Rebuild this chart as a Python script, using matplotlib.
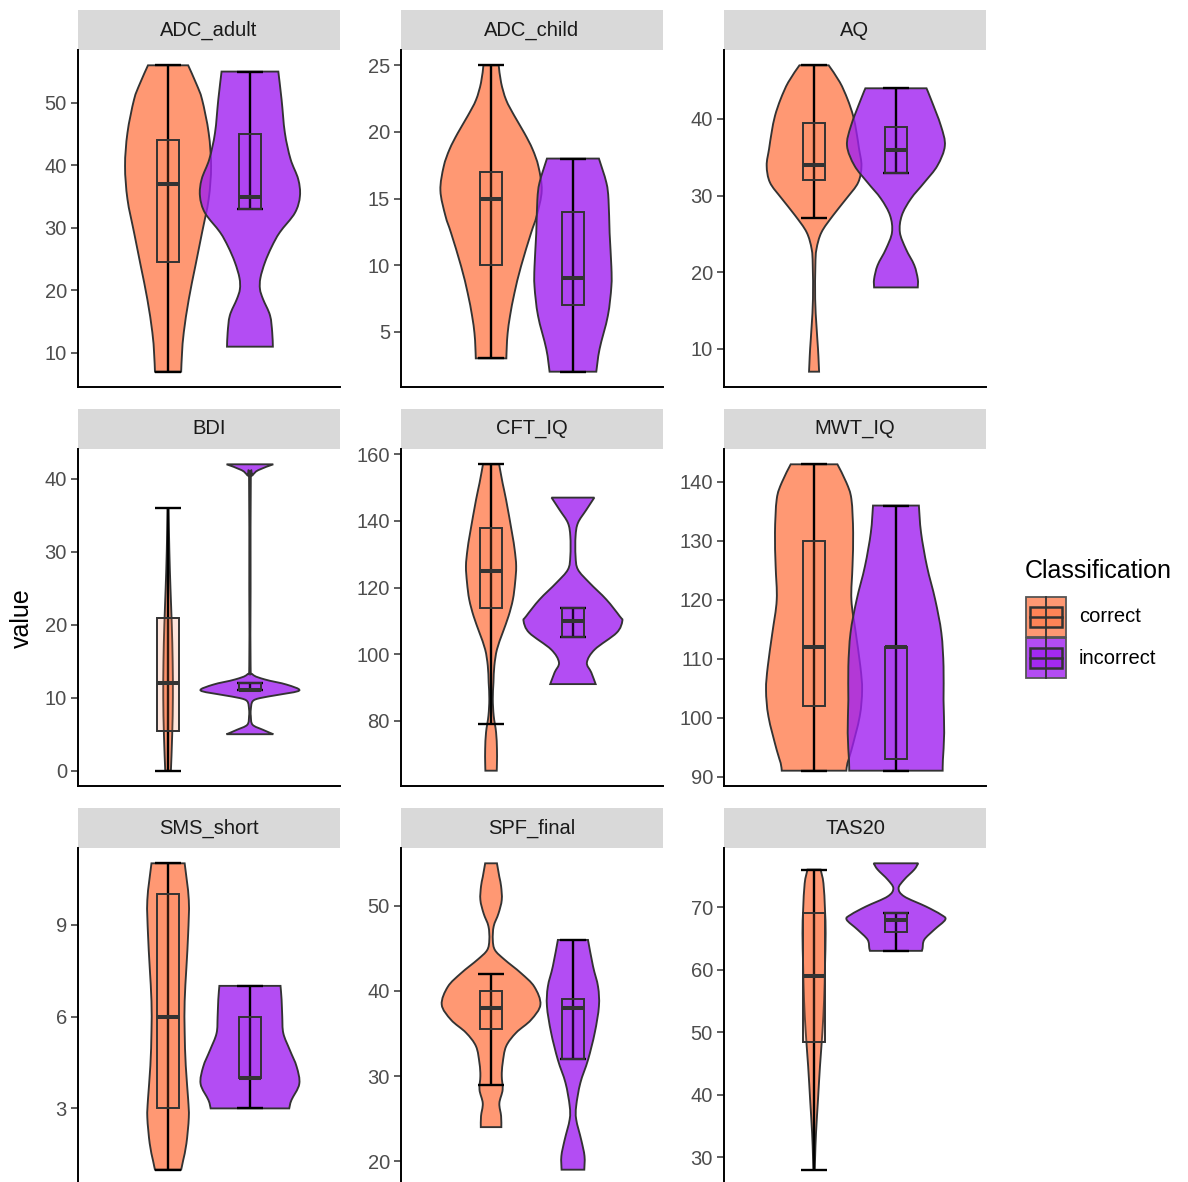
import numpy as np
import matplotlib.pyplot as plt
from matplotlib.path import Path
from matplotlib.patches import PathPatch, Rectangle
from matplotlib.colors import to_rgba

plt.rcParams['font.family'] = ['Liberation Sans', 'DejaVu Sans']

# ---- data ----
panels = ['ADC_adult', 'ADC_child', 'AQ', 'BDI', 'CFT_IQ', 'MWT_IQ',
          'SMS_short', 'SPF_final', 'TAS20']
groups = ['correct', 'incorrect']

# violin outlines: (value, half width in x units)
adc_adult_cor = [(7, .060), (10, .064), (13.3, .072), (18.6, .095), (23.9, .125), (29.3, .156),
                 (34.6, .186), (39.9, .197), (45.2, .186), (50.5, .156), (53, .13), (56, .092)]
adc_adult_inc = [(11, .105), (13.3, .102), (16, .092), (18.6, .06), (20.2, .046), (22, .048),
                 (24.5, .069), (27, .1), (29.3, .137), (32.4, .206), (35.1, .229), (37.8, .221),
                 (41, .186), (45.2, .16), (50.5, .145), (55, .13)]
adc_child_cor = [(3, .07), (3.9, .072), (4.9, .076), (6.2, .087), (7.9, .107), (9.9, .137),
                 (12.4, .183), (13.7, .209), (15.6, .232), (17.4, .217), (18.7, .19), (19.9, .153),
                 (21.2, .107), (22.4, .069), (23.7, .046), (25, .035)]
adc_child_inc = [(2, .107), (3.7, .122), (6.2, .16), (8.4, .176), (9.9, .176), (12.4, .168),
                 (14.9, .163), (16.2, .153), (18, .119)]
aq_cor = [(7, .023), (8.3, .021), (10, .018), (13, .011), (16.5, .005), (20.9, .006), (23, .011),
          (25.2, .034), (27.4, .087), (29.6, .148), (31.7, .202), (33.9, .217), (36.1, .206),
          (38.3, .194), (40.4, .179), (42.6, .153), (44.8, .118), (47, .067)]
aq_inc = [(18, .1), (19.1, .1), (20.9, .084), (23, .046), (25.2, .018), (27.4, .027), (29.6, .069),
          (31.7, .13), (33.9, .19), (36.5, .224), (39.1, .206), (42.6, .16), (44, .14)]
bdi_cor = [(0, .013), (5, .019), (10, .022), (15, .021), (20, .017), (25, .011), (30, .006),
           (36, .002)]
bdi_inc = [(5, .107), (5.6, .06), (6.3, .012), (7.5, .004), (8.4, .004), (9.5, .012), (9.95, .046),
           (10.4, .13), (11, .226), (11.8, .168), (12.5, .069), (13.2, .012), (14.5, .003),
           (25, .003), (40, .004), (40.5, .012), (41.2, .038), (42, .107)]
cft_cor = [(65, .026), (67.5, .027), (71.5, .027), (76.5, .023), (81.5, .012), (86.5, .008),
           (91.5, .011), (96.5, .015), (101.4, .027), (106.4, .053), (111.4, .08), (116.4, .1),
           (121.4, .11), (126.4, .115), (131.4, .108), (136.4, .096), (146.3, .069),
           (151.3, .053), (157, .037)]
cft_inc = [(91, .104), (94.5, .084), (97.5, .064), (101.4, .1), (106.4, .2), (109.9, .226),
           (111.4, .214), (116.4, .153), (121.4, .076), (125.4, .023), (129.4, .012),
           (135.4, .012), (139.4, .023), (143.3, .061), (147, .098)]
mwt_cor = [(91, .148), (92.3, .153), (94.5, .171), (100.2, .209), (104.7, .22), (108.7, .212),
           (114.4, .191), (120, .171), (125.7, .176), (131.4, .179), (137.1, .171),
           (139.9, .148), (143, .107)]
mwt_inc = [(91, .214), (92.8, .215), (97.4, .221), (103, .218), (108.7, .218), (114.4, .208),
           (120, .18), (125.7, .142), (131.4, .115), (136, .105)]
sms_cor = [(1, .06), (1.3, .069), (1.85, .084), (2.7, .095), (3.3, .092), (4.4, .081), (5.5, .076),
           (6.5, .076), (7.6, .084), (8.7, .092), (9.8, .095), (11, .076)]
sms_inc = [(3, .18), (3.27, .19), (3.8, .226), (4.36, .214), (4.9, .183), (5.45, .153), (6, .148),
           (6.55, .145), (7, .14)]
spf_cor = [(24, .047), (25.3, .046), (26.8, .038), (28.4, .053), (30, .049), (31.5, .053),
           (33.5, .069), (35.1, .115), (36.6, .183), (38.4, .226), (40.5, .198), (42.1, .137),
           (43.7, .061), (44.8, .018), (46, .008), (47.6, .012), (49.1, .034), (50.7, .049),
           (52.3, .046), (53.4, .038), (55, .027)]
spf_inc = [(19, .052), (20.6, .053), (22.5, .038), (24.9, .015), (26.5, .015), (29.2, .034),
           (31.9, .069), (35.1, .1), (38.2, .119), (40.5, .115), (42.9, .092), (46, .069)]
tas_cor = [(28, .003), (30.2, .005), (33.9, .009), (39.2, .018), (44.5, .027), (49.9, .038),
           (55.2, .046), (60.5, .05), (65.8, .053), (69.6, .05), (73.8, .043), (76, .03)]
tas_inc = [(63, .119), (63.4, .122), (64.8, .13), (66.4, .176), (68, .226), (68.8, .206),
           (70.1, .137), (71.7, .038), (73, .012), (74.4, .038), (76, .084), (77, .102)]

violins_cor = [adc_adult_cor, adc_child_cor, aq_cor, bdi_cor, cft_cor, mwt_cor, sms_cor, spf_cor, tas_cor]
violins_inc = [adc_adult_inc, adc_child_inc, aq_inc, bdi_inc, cft_inc, mwt_inc, sms_inc, spf_inc, tas_inc]

# box stats: whisker low, q1, median, q3, whisker high
box_cor = [[7, 24.5, 37, 44, 56], [3, 10, 15, 17, 25], [27, 32, 34, 39.5, 47],
           [0, 5.5, 12, 21, 36], [79, 114, 125, 138, 157], [91, 102, 112, 130, 143],
           [1, 3, 6, 10, 11], [29, 35.5, 38, 40, 42], [28, 48.5, 59, 69, 76]]
box_inc = [[33, 33, 35, 45, 55], [2, 7, 9, 14, 18], [33, 33, 36, 39, 44],
           [11, 11, 11, 12, 12], [105, 105, 110, 114, 114], [91, 93, 112, 112, 136],
           [3, 4, 4, 6, 7], [32, 32, 38, 39, 46], [63, 66, 68, 69, 69]]

yticks = [[10, 20, 30, 40, 50], [5, 10, 15, 20, 25], [10, 20, 30, 40], [0, 10, 20, 30, 40],
          [80, 100, 120, 140, 160], [90, 100, 110, 120, 130, 140], [3, 6, 9],
          [20, 30, 40, 50], [30, 40, 50, 60, 70]]

fills = ['#FF7F50', '#A020F0']
edge = '#333333'

# ---- layout (pixels) ----
W, H = 1188, 1182
col_x = [78, 401, 724]
row_y = [50, 449, 848]
pw, ph = 262, 337
strip_h = 40
pos = [1 - 0.1875, 1 + 0.1875]


def violin_path(pts, c):
    pts = sorted(pts)
    left = np.array([[c - w, v] for v, w in pts])
    right = np.array([[c + w, v] for v, w in pts[::-1]])

    def side(p, verts, codes):
        n = len(p)
        for i in range(n - 1):
            p0 = p[max(i - 1, 0)]
            p1 = p[i]
            p2 = p[i + 1]
            p3 = p[min(i + 2, n - 1)]
            verts += [p1 + (p2 - p0) / 6, p2 - (p3 - p1) / 6, p2]
            codes += [Path.CURVE4] * 3

    verts = [left[0]]
    codes = [Path.MOVETO]
    side(left, verts, codes)
    verts.append(right[0])
    codes.append(Path.LINETO)
    side(right, verts, codes)
    verts.append(left[0])
    codes.append(Path.CLOSEPOLY)
    return Path(verts, codes)


fig = plt.figure(figsize=(W / 100, H / 100), dpi=100)

for k, name in enumerate(panels):
    r, cidx = divmod(k, 3)
    x0, y0 = col_x[cidx], row_y[r]
    ax = fig.add_axes([x0 / W, 1 - (y0 + ph) / H, pw / W, ph / H])

    for g, vpts in enumerate([violins_cor[k], violins_inc[k]]):
        ax.add_patch(PathPatch(violin_path(vpts, pos[g]), facecolor=to_rgba(fills[g], 0.8),
                               edgecolor=edge, lw=1.35, zorder=2 + g * 0.1))

    for g, bx in enumerate([box_cor[k], box_inc[k]]):
        c = pos[g]
        lo, q1, med, q3, hi = bx
        ax.plot([c, c], [lo, hi], color='black', lw=1.7, zorder=4, solid_capstyle='butt')
        for yv in (lo, hi):
            ax.plot([c - 0.06, c + 0.06], [yv, yv], color='black', lw=1.7, zorder=4,
                    solid_capstyle='butt')
        ax.add_patch(Rectangle((c - 0.052, q1), 0.104, q3 - q1,
                               facecolor=to_rgba(fills[g], 0.2),
                               edgecolor=edge, lw=1.4, zorder=5))
        ax.plot([c - 0.052, c + 0.052], [med, med], color=edge, lw=2.9, zorder=6,
                solid_capstyle='butt')

    vals = [v for v, w in violins_cor[k] + violins_inc[k]]
    lo, hi = min(vals), max(vals)
    pad = (hi - lo) * 0.05
    ax.set_ylim(lo - pad, hi + pad)
    ax.set_xlim(0.4, 1.6)
    ax.set_xticks([])
    ax.set_yticks(yticks[k])
    ax.tick_params(axis='y', length=5, width=1.1, color='#333333', labelcolor='#4D4D4D',
                   labelsize=14.5, pad=3)
    for s in ['top', 'right']:
        ax.spines[s].set_visible(False)
    for s in ['left', 'bottom']:
        ax.spines[s].set_linewidth(1.4)
        ax.spines[s].set_color('black')

# overlay for strips and legend (pixel coordinates)
ov = fig.add_axes([0, 0, 1, 1], zorder=-1)
ov.set_xlim(0, W)
ov.set_ylim(H, 0)
ov.axis('off')

for k, name in enumerate(panels):
    r, cidx = divmod(k, 3)
    x0, y0 = col_x[cidx], row_y[r]
    ov.add_patch(Rectangle((x0, y0 - strip_h), pw, strip_h, facecolor='#D9D9D9', edgecolor='none'))
    ov.text(x0 + pw / 2, y0 - strip_h / 2, name, ha='center', va='center', fontsize=14.5,
            color='#1A1A1A')

fig.text(22 / W, 1 - 618 / H, 'value', rotation=90, ha='center', va='center', fontsize=18)

# legend
ov.text(1025, 571, 'Classification', ha='left', va='center', fontsize=18)
for g, lab in enumerate(groups):
    ky = 597 + g * 41
    ov.add_patch(Rectangle((1026, ky), 40, 40, facecolor=to_rgba(fills[g], 0.8),
                           edgecolor='#555555', lw=1.3))
    ov.plot([1046, 1046], [ky, ky + 40], color=edge, lw=1.3)
    ov.add_patch(Rectangle((1030, ky + 10), 32, 20, facecolor=to_rgba(fills[g], 0.8),
                           edgecolor=edge, lw=1.8))
    ov.plot([1030, 1062], [ky + 20, ky + 20], color=edge, lw=1.8)
    ov.text(1079, ky + 20, lab, ha='left', va='center', fontsize=14.5)

fig.savefig('out.png', dpi=100)
